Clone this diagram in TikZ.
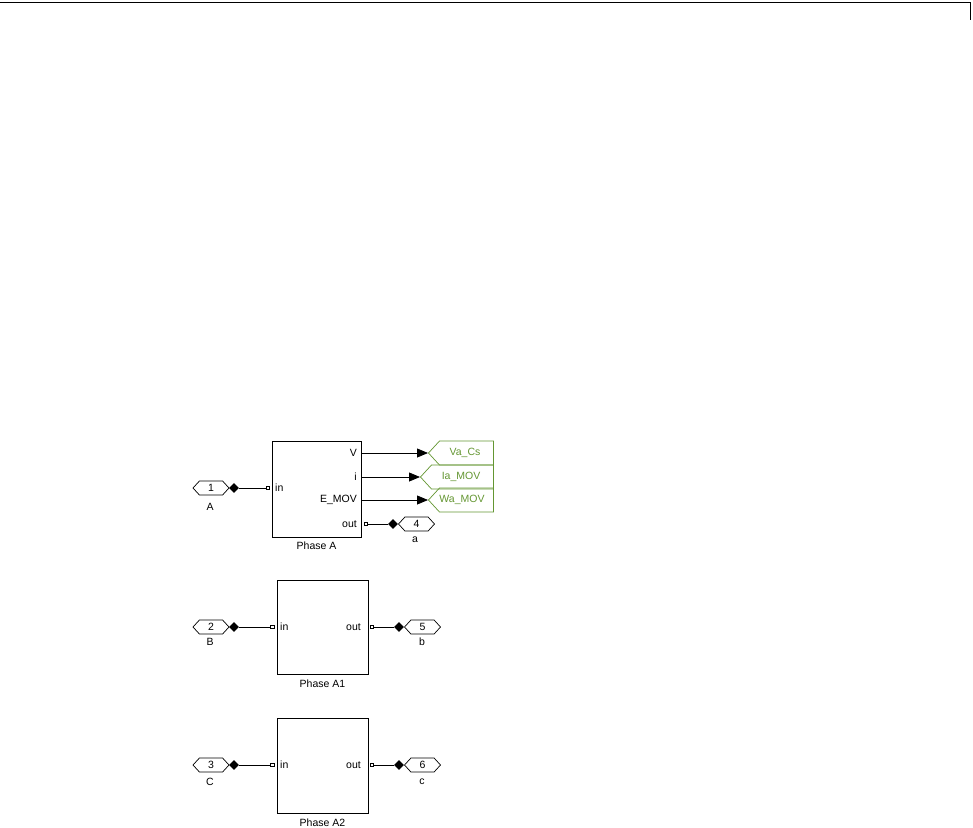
\documentclass[tikz,border=0pt]{standalone}
\usepackage{fontspec}
\setmainfont{Liberation Sans}
\usetikzlibrary{shapes.geometric,shapes.symbols,arrows.meta}
\definecolor{tagg}{RGB}{100,150,50}
\begin{document}
\begin{tikzpicture}[x=1pt,y=-1pt,font=\fontsize{10.5}{12}\selectfont,
  blk/.style={draw,line width=0.8pt,inner sep=0pt},
  port/.style={draw,line width=0.7pt,signal,signal to=west and east,signal pointer angle=95,minimum width=36pt,minimum height=14pt,inner sep=0pt},
  tag/.style={draw=tagg,line width=0.7pt,signal,signal to=west,signal from=nowhere,signal pointer angle=95,minimum height=24pt,inner sep=0pt,anchor=west},
  tagtxt/.style={text=tagg,inner sep=0pt},
  dia/.style={diamond,fill=black,minimum width=10pt,minimum height=10pt,inner sep=0pt},
  sq/.style={draw,line width=0.6pt,minimum size=3.5pt,inner sep=0pt,fill=white},
  wire/.style={line width=0.8pt},
  sig/.style={line width=0.8pt,-{Triangle[length=11pt,width=9pt]}},
  lbl/.style={inner sep=0pt}]
\useasboundingbox (0,0) rectangle (973,827);
% frame line at top
\coordinate (tl) at (0,2);
\coordinate (tr) at (970,2);
\coordinate (trd) at (970,20);
\draw[line width=1pt] (tl) -- (tr) -- (trd);

% ---------- Phase A ----------
\node[blk,minimum width=89pt,minimum height=96pt] (pa) at (316.5,489) {};
\node[lbl,below] (paL) at (pa.south) [yshift=-4pt] {Phase A};
\node[lbl,anchor=east] (paV) at (357,453) {V};
\node[lbl,anchor=east] (pai) at (357,477) {i};
\node[lbl,anchor=east] (paE) at (357,500) {E\_MOV};
\node[lbl,anchor=east] (paO) at (357,524) {out};
\node[lbl,anchor=west] (paI) at (275,488) {in};
\node[sq] (pasi) at (268,488) {};
\node[sq] (paso) at (366,524) {};
\coordinate (paVo) at (361,453);
\coordinate (paio) at (361,477);
\coordinate (paEo) at (361,500);

\node[port] (in1) at (211,488) {1};
\node[lbl] (in1L) at (210,507) {A};
\node[dia] (d1) at (234,488) {};
\draw[wire] (d1) -- (pasi);

\node[port] (out4) at (416.5,524) {4};
\node[lbl] (out4L) at (415,540) {a};
\node[dia] (d4) at (393,524) {};
\draw[wire] (paso) -- (d4);

\node[tag,minimum width=65pt] (tV) at (428,453) {};
\node[tag,minimum width=73pt] (tI) at (420,477) {};
\node[tag,minimum width=65pt] (tW) at (428,500) {};
\node[tagtxt] (tVt) at (465,453) {Va\_Cs};
\node[tagtxt] (tIt) at (461,477) {Ia\_MOV};
\node[tagtxt] (tWt) at (462,500) {Wa\_MOV};
\draw[sig] (paVo) -- (tV.west);
\draw[sig] (paio) -- (tI.west);
\draw[sig] (paEo) -- (tW.west);

% ---------- Phase A1 ----------
\node[blk,minimum width=91pt,minimum height=94pt] (pb) at (322.5,627) {};
\node[lbl,below] (pbL) at (pb.south) [yshift=-5pt] {Phase A1};
\node[lbl,anchor=west] (pbI) at (280,627) {in};
\node[lbl,anchor=east] (pbO) at (361,627) {out};
\node[sq] (pbsi) at (272.5,627) {};
\node[sq] (pbso) at (372,627) {};
\node[port] (in2) at (211,627) {2};
\node[lbl] (in2L) at (210,642) {B};
\node[dia] (d2) at (234,627) {};
\draw[wire] (d2) -- (pbsi);
\node[port] (out5) at (422.5,627) {5};
\node[lbl] (out5L) at (422,642) {b};
\node[dia] (d5) at (399,627) {};
\draw[wire] (pbso) -- (d5);

% ---------- Phase A2 ----------
\node[blk,minimum width=91pt,minimum height=95pt] (pc) at (322.5,765.5) {};
\node[lbl,below] (pcL) at (pc.south) [yshift=-5pt] {Phase A2};
\node[lbl,anchor=west] (pcI) at (280,765) {in};
\node[lbl,anchor=east] (pcO) at (361,765) {out};
\node[sq] (pcsi) at (272.5,765) {};
\node[sq] (pcso) at (372,765) {};
\node[port] (in3) at (211,765) {3};
\node[lbl] (in3L) at (210,782) {C};
\node[dia] (d3) at (234,765) {};
\draw[wire] (d3) -- (pcsi);
\node[port] (out6) at (422.5,765) {6};
\node[lbl] (out6L) at (422,782) {c};
\node[dia] (d6) at (399,765) {};
\draw[wire] (pcso) -- (d6);
\end{tikzpicture}
\end{document}
